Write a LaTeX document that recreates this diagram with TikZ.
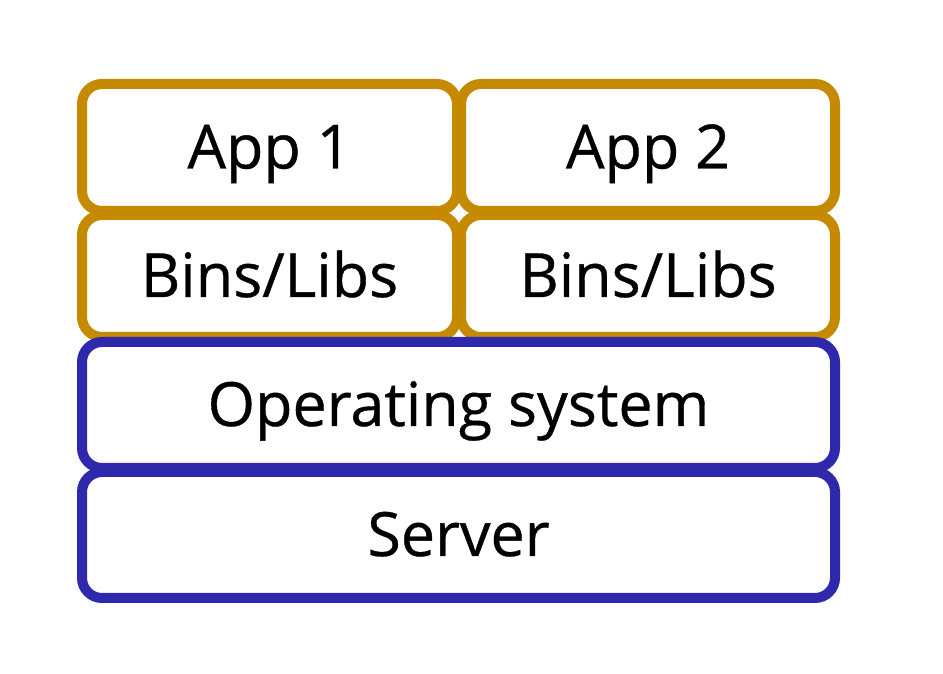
\documentclass[tikz,border=0pt]{standalone}
\usepackage{fontspec}
\setmainfont{Open Sans}[FakeBold=0.6]
\definecolor{goldc}{RGB}{197,138,0}
\definecolor{bluec}{RGB}{46,41,172}
\begin{document}
\begin{tikzpicture}[x=1pt,y=1pt,
  layer/.style={rectangle, rounded corners=20pt, line width=10pt, fill=white,
    inner sep=0pt, text height=42pt, text depth=0pt,
    font=\fontsize{61}{72}\selectfont, text=black},
  appbox/.style={layer, draw=goldc},
  sysbox/.style={layer, draw=bluec}]
\useasboundingbox (0,0) rectangle (943,674);
\node[appbox, minimum width=375pt, minimum height=127pt] (app1) at (269.5,526.5) {App 1};
\node[appbox, minimum width=374pt, minimum height=127pt] (app2) at (648,526.5) {App 2};
\node[appbox, minimum width=375pt, minimum height=122pt] (bins1) at (269.5,398) {Bins/Libs};
\node[appbox, minimum width=374pt, minimum height=122pt] (bins2) at (648,398) {Bins/Libs};
\node[sysbox, minimum width=753pt, minimum height=126pt] (os) at (458.5,269) {Operating system};
\node[sysbox, minimum width=753pt, minimum height=126pt] (server) at (458.5,139) {Server};
\end{tikzpicture}
\end{document}
